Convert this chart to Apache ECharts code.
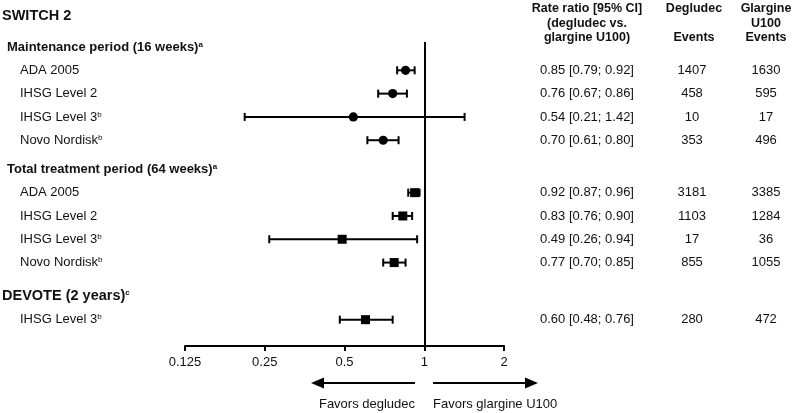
<!DOCTYPE html>
<html>
<head>
<meta charset="utf-8">
<script src="https://cdn.jsdelivr.net/npm/echarts@6/dist/echarts.min.js"></script>
<style>
html,body{margin:0;padding:0;background:#fff;}
#main{width:793px;height:413px;}
</style>
</head>
<body>
<div id="main"></div>
<script>
// ---------------- DATA ----------------
const studyTitle = 'SWITCH 2';
const sectionTitles = ['Maintenance period (16 weeks)', 'Total treatment period (64 weeks)', 'DEVOTE (2 years)'];
const sectionNotes = ['a', 'a', 'c'];
const rowLabels = ['ADA 2005', 'IHSG Level 2', 'IHSG Level 3', 'Novo Nordisk', 'ADA 2005', 'IHSG Level 2', 'IHSG Level 3', 'Novo Nordisk', 'IHSG Level 3'];
const rowNotes = ['', '', 'b', 'b', '', '', 'b', 'b', 'b'];
const rowSection = [0, 0, 0, 0, 1, 1, 1, 1, 2];
const rateRatio = [0.85, 0.76, 0.54, 0.70, 0.92, 0.83, 0.49, 0.77, 0.60];
const ciLow = [0.79, 0.67, 0.21, 0.61, 0.87, 0.76, 0.26, 0.70, 0.48];
const ciHigh = [0.92, 0.86, 1.42, 0.80, 0.96, 0.90, 0.94, 0.85, 0.76];
const degludecEvents = [1407, 458, 10, 353, 3181, 1103, 17, 855, 280];
const glargineEvents = [1630, 595, 17, 496, 3385, 1284, 36, 1055, 472];
const xTicks = [0.125, 0.25, 0.5, 1, 2];
const colHeaders = [
  ['Rate ratio [95% CI]', '(degludec vs.', 'glargine U100)'],
  ['Degludec', '', 'Events'],
  ['Glargine', 'U100', 'Events']
];
const favorsLeft = 'Favors degludec';
const favorsRight = 'Favors glargine U100';

// ---------------- LAYOUT ----------------
const FONT = '"Liberation Sans", Arial, Helvetica, sans-serif';
const sectionGap = [0, 1.25, 1.45];
const sectionIsStudy = [false, false, true];
const sectionMarker = ['circle', 'rect', 'rect'];
const yMin = -0.215, yMax = 12.83;

// compute row slots
const headerPos = [];
const rowPos = [];
let p = 0;
for (let s = 0; s < sectionTitles.length; s++) {
  if (s > 0) p += sectionGap[s];
  headerPos[s] = p;
  for (let i = 0; i < rowLabels.length; i++) {
    if (rowSection[i] === s) { p += 1; rowPos[i] = p; }
  }
}

const seriesData = rateRatio.map((v, i) => [v, ciLow[i], ciHigh[i], rowPos[i], rowSection[i]]);

const chart = echarts.init(document.getElementById('main'), null, {renderer: 'canvas'});

function renderItem(params, api) {
  const est = api.value(0), lo = api.value(1), hi = api.value(2), y = api.value(3), sec = api.value(4);
  const pL = api.coord([lo, y]);
  const pH = api.coord([hi, y]);
  const pE = api.coord([est, y]);
  const capH = 4;
  const ls = {stroke: '#000', lineWidth: 2};
  const children = [
    {type: 'line', shape: {x1: pL[0], y1: pL[1], x2: pH[0], y2: pH[1]}, style: ls},
    {type: 'line', shape: {x1: pL[0], y1: pL[1] - capH, x2: pL[0], y2: pL[1] + capH}, style: ls},
    {type: 'line', shape: {x1: pH[0], y1: pH[1] - capH, x2: pH[0], y2: pH[1] + capH}, style: ls}
  ];
  if (sectionMarker[sec] === 'circle') {
    children.push({type: 'circle', shape: {cx: pE[0], cy: pE[1], r: 4.6}, style: {fill: '#000'}});
  } else {
    children.push({type: 'rect', shape: {x: pE[0] - 4.5, y: pE[1] - 4.5, width: 9, height: 9}, style: {fill: '#000'}});
  }
  return {type: 'group', children: children};
}

chart.setOption({
  animation: false,
  backgroundColor: '#fff',
  title: {
    text: studyTitle, left: 2, top: 8, padding: 0,
    textStyle: {fontFamily: FONT, fontSize: 14.5, fontWeight: 'bold', color: '#111'}
  },
  grid: {left: 185, right: 289, top: 42, bottom: 67, containLabel: false},
  xAxis: {
    type: 'log', logBase: 2, min: xTicks[0], max: xTicks[xTicks.length - 1], splitNumber: 4,
    position: 'bottom',
    axisLine: {show: true, onZero: false, lineStyle: {color: '#000', width: 2}},
    axisTick: {show: true, inside: false, length: 5, lineStyle: {color: '#000', width: 2}},
    axisLabel: {
      color: '#111', fontFamily: FONT, fontSize: 13, margin: 10,
      formatter: function (v) {
        let best = xTicks[0];
        xTicks.forEach(t => { if (Math.abs(Math.log(t) - Math.log(v)) < Math.abs(Math.log(best) - Math.log(v))) best = t; });
        return String(best);
      }
    },
    splitLine: {show: false},
    minorTick: {show: false}
  },
  yAxis: {type: 'value', inverse: true, min: yMin, max: yMax, show: false},
  series: [{
    type: 'custom',
    renderItem: renderItem,
    encode: {x: [0, 1, 2], y: 3},
    data: seriesData,
    clip: false,
    markLine: {
      silent: true, symbol: ['none', 'none'], animation: false,
      label: {show: false},
      lineStyle: {color: '#000', width: 2, type: 'solid'},
      emphasis: {disabled: true},
      data: [{xAxis: 1}]
    }
  }]
});

// ---------------- TEXT TABLE ----------------
const yPix = v => chart.convertToPixel({yAxisIndex: 0}, v);
const graphics = [];
const supRich = {
  t: {fontFamily: FONT, fontSize: 13, fontWeight: 'bold', fill: '#111', color: '#111'},
  tb: {fontFamily: FONT, fontSize: 14.5, fontWeight: 'bold', fill: '#111', color: '#111'},
  r: {fontFamily: FONT, fontSize: 13, fill: '#111', color: '#111'},
  s: {fontFamily: FONT, fontSize: 8, fontWeight: 'bold', fill: '#111', color: '#111', verticalAlign: 'top'},
  sr: {fontFamily: FONT, fontSize: 8, fill: '#111', color: '#111', verticalAlign: 'top'}
};
sectionTitles.forEach((t, s) => {
  const big = sectionIsStudy[s];
  graphics.push({
    type: 'text', x: big ? 2 : 7, y: yPix(headerPos[s]),
    style: {
      text: '{' + (big ? 'tb' : 't') + '|' + t + '}' + (sectionNotes[s] ? '{s|' + sectionNotes[s] + '}' : ''),
      rich: supRich, verticalAlign: 'middle', align: 'left'
    }
  });
});
rowLabels.forEach((t, i) => {
  const y = yPix(rowPos[i]);
  graphics.push({
    type: 'text', x: 20, y: y,
    style: {text: '{r|' + t + '}' + (rowNotes[i] ? '{sr|' + rowNotes[i] + '}' : ''), rich: supRich, verticalAlign: 'middle', align: 'left'}
  });
  graphics.push({
    type: 'text', x: 587, y: y,
    style: {text: rateRatio[i].toFixed(2) + ' [' + ciLow[i].toFixed(2) + '; ' + ciHigh[i].toFixed(2) + ']',
      font: '13px ' + FONT, fill: '#111', align: 'center', verticalAlign: 'middle'}
  });
  graphics.push({
    type: 'text', x: 692, y: y,
    style: {text: String(degludecEvents[i]), font: '13px ' + FONT, fill: '#111', align: 'center', verticalAlign: 'middle'}
  });
  graphics.push({
    type: 'text', x: 766, y: y,
    style: {text: String(glargineEvents[i]), font: '13px ' + FONT, fill: '#111', align: 'center', verticalAlign: 'middle'}
  });
});
const colX = [587, 694, 766];
const headY = [9, 23.5, 38];
colHeaders.forEach((lines, c) => {
  lines.forEach((ln, k) => {
    if (!ln) return;
    graphics.push({
      type: 'text', x: colX[c], y: headY[k],
      style: {text: ln, font: 'bold 12.5px ' + FONT, fill: '#111', align: 'center', verticalAlign: 'middle'}
    });
  });
});
// favors arrows
const arrY = 383;
const ls2 = {stroke: '#000', lineWidth: 2};
graphics.push({type: 'line', shape: {x1: 415, y1: arrY, x2: 320, y2: arrY}, style: ls2});
graphics.push({type: 'polygon', shape: {points: [[311, arrY], [324, arrY - 5.5], [324, arrY + 5.5]]}, style: {fill: '#000'}});
graphics.push({type: 'line', shape: {x1: 433, y1: arrY, x2: 528, y2: arrY}, style: ls2});
graphics.push({type: 'polygon', shape: {points: [[538, arrY], [525, arrY - 5.5], [525, arrY + 5.5]]}, style: {fill: '#000'}});
graphics.push({type: 'text', x: 367, y: 404, style: {text: favorsLeft, font: '13px ' + FONT, fill: '#111', align: 'center', verticalAlign: 'middle'}});
graphics.push({type: 'text', x: 433, y: 404, style: {text: favorsRight, font: '13px ' + FONT, fill: '#111', align: 'left', verticalAlign: 'middle'}});

chart.setOption({graphic: graphics});
</script>
</body>
</html>
